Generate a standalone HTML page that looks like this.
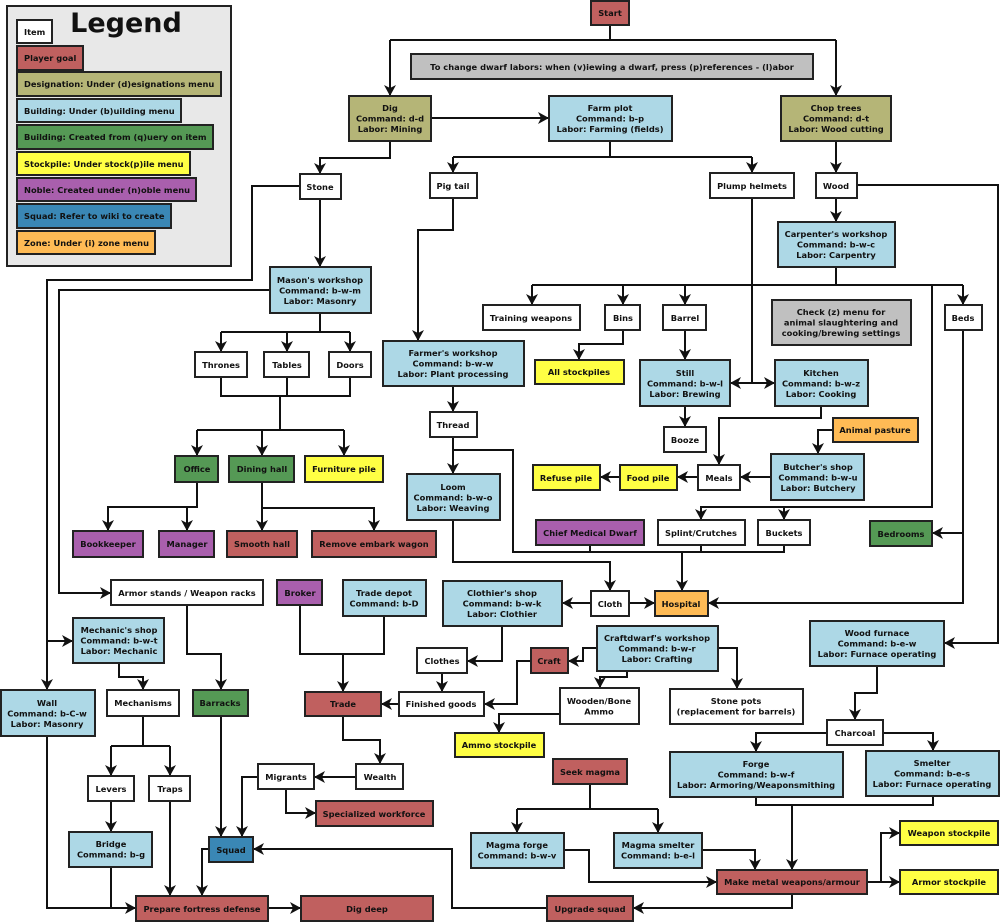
<!DOCTYPE html>
<html><head><meta charset="utf-8"><style>
html,body{margin:0;padding:0;background:#fff;width:1000px;height:922px;overflow:hidden}
svg{display:block}
text{font-family:"DejaVu Sans","Liberation Sans",sans-serif;font-weight:bold;font-size:8.3px;fill:#111;text-anchor:middle}
rect{stroke:#222;stroke-width:2}
path{fill:none;stroke:#111;stroke-width:2}
.w{fill:#fff}.r{fill:#c0605f}.o{fill:#b5b577}.b{fill:#add8e6}.g{fill:#559955}.y{fill:#ffff44}.p{fill:#a95fad}.s{fill:#3a87b5}.z{fill:#ffbb55}.gr{fill:#c0c0c0}
.l{text-anchor:start}
</style></head><body>
<svg width="1000" height="922" viewBox="0 0 1000 922" xmlns="http://www.w3.org/2000/svg">
<defs><marker id="a" markerUnits="userSpaceOnUse" markerWidth="12" markerHeight="12" refX="10" refY="6" orient="auto"><path d="M0,0 L11,6 L0,12 L3,6 Z" style="fill:#111;stroke:none"/></marker></defs>

<!-- Legend -->
<rect x="7" y="6" width="224" height="260" style="fill:#e8e8e8"/>
<text x="126" y="32" style="font-size:27px">Legend</text>
<rect class="w" x="17" y="20" width="35" height="23"/><text class="l" x="24" y="35">Item</text>
<rect class="r" x="17" y="46" width="66" height="24"/><text class="l" x="24" y="61">Player goal</text>
<rect class="o" x="17" y="72" width="204" height="24"/><text class="l" x="24" y="87">Designation: Under (d)esignations menu</text>
<rect class="b" x="17" y="99" width="164" height="23"/><text class="l" x="24" y="114">Building: Under (b)uilding menu</text>
<rect class="g" x="17" y="125" width="196" height="24"/><text class="l" x="24" y="140">Building: Created from (q)uery on item</text>
<rect class="y" x="17" y="152" width="173" height="23"/><text class="l" x="24" y="167">Stockpile: Under stock(p)ile menu</text>
<rect class="p" x="17" y="178" width="179" height="23"/><text class="l" x="24" y="193">Noble: Created under (n)oble menu</text>
<rect class="s" x="17" y="204" width="154" height="24"/><text class="l" x="24" y="219">Squad: Refer to wiki to create</text>
<rect class="z" x="17" y="231" width="138" height="23"/><text class="l" x="24" y="246">Zone: Under (i) zone menu</text>

<!-- Edges -->
<path d="M610,25 V40 M390,40 H836"/>
<path d="M390,40 V95" marker-end="url(#a)"/>
<path d="M836,40 V95" marker-end="url(#a)"/>
<path d="M431,118 H548" marker-end="url(#a)"/>
<path d="M390,141 V158 H320 V173" marker-end="url(#a)"/>
<path d="M610,141 V157 M453,157 H752"/>
<path d="M453,157 V172" marker-end="url(#a)"/>
<path d="M752,157 V172" marker-end="url(#a)"/>
<path d="M836,141 V172" marker-end="url(#a)"/>
<path d="M836,198 V221" marker-end="url(#a)"/>
<path d="M857,185 H998 V643 H945" marker-end="url(#a)"/>
<path d="M320,199 V266" marker-end="url(#a)"/>
<path d="M300,186 H252 V280 H47 V689" marker-end="url(#a)"/>
<path d="M47,641 H72" marker-end="url(#a)"/>
<path d="M270,290 H59 V593 H110" marker-end="url(#a)"/>
<path d="M320,313 V332 M221,332 H350"/>
<path d="M221,332 V351" marker-end="url(#a)"/>
<path d="M287,332 V351" marker-end="url(#a)"/>
<path d="M350,332 V351" marker-end="url(#a)"/>
<path d="M221,377 V396 H350 V377 M287,377 V396 M280,396 V430 M197,430 H344"/>
<path d="M197,430 V455" marker-end="url(#a)"/>
<path d="M262,430 V455" marker-end="url(#a)"/>
<path d="M344,430 V455" marker-end="url(#a)"/>
<path d="M197,482 V507 H108 V530" marker-end="url(#a)"/>
<path d="M187,507 V530" marker-end="url(#a)"/>
<path d="M262,482 V508 H374 V530" marker-end="url(#a)"/>
<path d="M262,508 V530" marker-end="url(#a)"/>
<path d="M453,198 V230 H418 V340" marker-end="url(#a)"/>
<path d="M453,386 V411" marker-end="url(#a)"/>
<path d="M453,437 V473" marker-end="url(#a)"/>
<path d="M453,450 H513 V552 H784 V545 M590,545 V552 M701,545 V552"/>
<path d="M682,552 V590" marker-end="url(#a)"/>
<path d="M453,520 V562 H610 V590" marker-end="url(#a)"/>
<path d="M591,603 H563" marker-end="url(#a)"/>
<path d="M629,603 H654" marker-end="url(#a)"/>
<path d="M963,330 V603 H709" marker-end="url(#a)"/>
<path d="M963,533 H933" marker-end="url(#a)"/>
<path d="M836,267 V285 M532,285 H963"/>
<path d="M532,285 V304" marker-end="url(#a)"/>
<path d="M623,285 V304" marker-end="url(#a)"/>
<path d="M685,285 V304" marker-end="url(#a)"/>
<path d="M963,285 V304" marker-end="url(#a)"/>
<path d="M932,285 V507 H701 V519" marker-end="url(#a)"/>
<path d="M784,507 V519" marker-end="url(#a)"/>
<path d="M752,198 V383 H731" marker-end="url(#a)"/>
<path d="M752,383 H774" marker-end="url(#a)"/>
<path d="M623,330 V344 H579 V359" marker-end="url(#a)"/>
<path d="M685,330 V359" marker-end="url(#a)"/>
<path d="M685,406 V426" marker-end="url(#a)"/>
<path d="M821,406 V418 H719 V464" marker-end="url(#a)"/>
<path d="M833,430 H818 V453" marker-end="url(#a)"/>
<path d="M771,477 H741" marker-end="url(#a)"/>
<path d="M698,477 H678" marker-end="url(#a)"/>
<path d="M620,477 H601" marker-end="url(#a)"/>
<path d="M502,626 V661 H468" marker-end="url(#a)"/>
<path d="M442,673 V691" marker-end="url(#a)"/>
<path d="M399,704 H382" marker-end="url(#a)"/>
<path d="M597,648 H583 V661 H569" marker-end="url(#a)"/>
<path d="M531,661 H517 V704 H485" marker-end="url(#a)"/>
<path d="M627,671 V677 H600 V687" marker-end="url(#a)"/>
<path d="M718,648 H737 V688" marker-end="url(#a)"/>
<path d="M560,714 H499 V732" marker-end="url(#a)"/>
<path d="M384,616 V654 H300 V605 M343,654 V691" marker-end="url(#a)"/>
<path d="M343,716 V740 H380 V763" marker-end="url(#a)"/>
<path d="M356,777 H315" marker-end="url(#a)"/>
<path d="M286,789 V813 H315" marker-end="url(#a)"/>
<path d="M258,777 H242 V836" marker-end="url(#a)"/>
<path d="M187,605 V654 H221 V689" marker-end="url(#a)"/>
<path d="M221,716 V836" marker-end="url(#a)"/>
<path d="M119,663 V677 H143 V689" marker-end="url(#a)"/>
<path d="M143,716 V746 M111,746 H170"/>
<path d="M111,746 V775" marker-end="url(#a)"/>
<path d="M170,746 V775" marker-end="url(#a)"/>
<path d="M111,801 V831" marker-end="url(#a)"/>
<path d="M170,801 V895" marker-end="url(#a)"/>
<path d="M47,736 V908 H135" marker-end="url(#a)"/>
<path d="M111,867 V908"/>
<path d="M209,849 H202 V895" marker-end="url(#a)"/>
<path d="M268,908 H300" marker-end="url(#a)"/>
<path d="M547,908 H452 V849 H254" marker-end="url(#a)"/>
<path d="M792,894 V908 H634" marker-end="url(#a)"/>
<path d="M877,666 V693 H855 V719" marker-end="url(#a)"/>
<path d="M827,733 H756 V751" marker-end="url(#a)"/>
<path d="M883,733 H933 V750" marker-end="url(#a)"/>
<path d="M756,797 V805 H933 V796 M792,805 V869" marker-end="url(#a)"/>
<path d="M590,784 V809 M517,809 H658"/>
<path d="M517,809 V832" marker-end="url(#a)"/>
<path d="M658,809 V832" marker-end="url(#a)"/>
<path d="M564,850 H589 V882 H716" marker-end="url(#a)"/>
<path d="M702,850 H755 V869" marker-end="url(#a)"/>
<path d="M867,882 H881 V833 H899" marker-end="url(#a)"/>
<path d="M881,882 H899" marker-end="url(#a)"/>

<!-- Nodes -->
<rect class="r" x="591" y="1" width="38" height="24"/><text x="610" y="16">Start</text>
<rect class="gr" x="411" y="54" width="402" height="25"/><text x="612" y="70">To change dwarf labors: when (v)iewing a dwarf, press (p)references - (l)abor</text>
<rect class="o" x="349" y="96" width="82" height="45"/><text x="390" y="111">Dig<tspan x="390" dy="10.4">Command: d-d</tspan><tspan x="390" dy="10.4">Labor: Mining</tspan></text>
<rect class="b" x="549" y="96" width="123" height="45"/><text x="610" y="111">Farm plot<tspan x="610" dy="10.4">Command: b-p</tspan><tspan x="610" dy="10.4">Labor: Farming (fields)</tspan></text>
<rect class="o" x="781" y="96" width="110" height="45"/><text x="836" y="111">Chop trees<tspan x="836" dy="10.4">Command: d-t</tspan><tspan x="836" dy="10.4">Labor: Wood cutting</tspan></text>
<rect class="w" x="300" y="174" width="41" height="25"/><text x="320" y="190">Stone</text>
<rect class="w" x="430" y="173" width="47" height="25"/><text x="453" y="189">Pig tail</text>
<rect class="w" x="710" y="173" width="84" height="25"/><text x="752" y="189">Plump helmets</text>
<rect class="w" x="816" y="173" width="41" height="25"/><text x="836" y="189">Wood</text>
<rect class="b" x="778" y="222" width="117" height="45"/><text x="836" y="237">Carpenter's workshop<tspan x="836" dy="10.4">Command: b-w-c</tspan><tspan x="836" dy="10.4">Labor: Carpentry</tspan></text>
<rect class="b" x="270" y="267" width="101" height="46"/><text x="320" y="283">Mason's workshop<tspan x="320" dy="10.4">Command: b-w-m</tspan><tspan x="320" dy="10.4">Labor: Masonry</tspan></text>
<rect class="w" x="483" y="305" width="97" height="25"/><text x="531" y="321">Training weapons</text>
<rect class="w" x="605" y="305" width="35" height="25"/><text x="623" y="321">Bins</text>
<rect class="w" x="663" y="305" width="43" height="25"/><text x="685" y="321">Barrel</text>
<rect class="gr" x="772" y="300" width="139" height="45"/><text x="841" y="315">Check (z) menu for<tspan x="841" dy="10.4">animal slaughtering and</tspan><tspan x="841" dy="10.4">cooking/brewing settings</tspan></text>
<rect class="w" x="945" y="305" width="37" height="25"/><text x="963" y="321">Beds</text>
<rect class="w" x="195" y="352" width="52" height="25"/><text x="221" y="368">Thrones</text>
<rect class="w" x="264" y="352" width="45" height="25"/><text x="287" y="368">Tables</text>
<rect class="w" x="329" y="352" width="42" height="25"/><text x="350" y="368">Doors</text>
<rect class="b" x="383" y="341" width="141" height="45"/><text x="453" y="356">Farmer's workshop<tspan x="453" dy="10.4">Command: b-w-w</tspan><tspan x="453" dy="10.4">Labor: Plant processing</tspan></text>
<rect class="y" x="535" y="360" width="89" height="24"/><text x="579" y="375">All stockpiles</text>
<rect class="b" x="640" y="360" width="90" height="46"/><text x="685" y="376">Still<tspan x="685" dy="10.4">Command: b-w-l</tspan><tspan x="685" dy="10.4">Labor: Brewing</tspan></text>
<rect class="b" x="775" y="360" width="93" height="46"/><text x="821" y="376">Kitchen<tspan x="821" dy="10.4">Command: b-w-z</tspan><tspan x="821" dy="10.4">Labor: Cooking</tspan></text>
<rect class="w" x="430" y="412" width="47" height="25"/><text x="453" y="428">Thread</text>
<rect class="w" x="664" y="427" width="42" height="25"/><text x="685" y="443">Booze</text>
<rect class="z" x="833" y="418" width="85" height="24"/><text x="875" y="433">Animal pasture</text>
<rect class="g" x="175" y="456" width="43" height="26"/><text x="197" y="472">Office</text>
<rect class="g" x="229" y="456" width="65" height="26"/><text x="262" y="472">Dining hall</text>
<rect class="y" x="305" y="456" width="78" height="26"/><text x="344" y="472">Furniture pile</text>
<rect class="b" x="407" y="474" width="93" height="46"/><text x="453" y="490">Loom<tspan x="453" dy="10.4">Command: b-w-o</tspan><tspan x="453" dy="10.4">Labor: Weaving</tspan></text>
<rect class="y" x="533" y="465" width="67" height="25"/><text x="566" y="481">Refuse pile</text>
<rect class="y" x="620" y="465" width="57" height="25"/><text x="648" y="481">Food pile</text>
<rect class="w" x="698" y="465" width="42" height="25"/><text x="719" y="481">Meals</text>
<rect class="b" x="771" y="454" width="93" height="46"/><text x="818" y="470">Butcher's shop<tspan x="818" dy="10.4">Command: b-w-u</tspan><tspan x="818" dy="10.4">Labor: Butchery</tspan></text>
<rect class="p" x="536" y="520" width="108" height="25"/><text x="590" y="536">Chief Medical Dwarf</text>
<rect class="w" x="658" y="520" width="87" height="25"/><text x="701" y="536">Splint/Crutches</text>
<rect class="w" x="758" y="520" width="52" height="25"/><text x="784" y="536">Buckets</text>
<rect class="g" x="870" y="521" width="62" height="25"/><text x="901" y="537">Bedrooms</text>
<rect class="p" x="73" y="531" width="70" height="26"/><text x="108" y="547">Bookkeeper</text>
<rect class="p" x="159" y="531" width="55" height="26"/><text x="187" y="547">Manager</text>
<rect class="r" x="227" y="531" width="70" height="26"/><text x="262" y="547">Smooth hall</text>
<rect class="r" x="312" y="531" width="124" height="26"/><text x="374" y="547">Remove embark wagon</text>
<rect class="w" x="111" y="580" width="152" height="25"/><text x="187" y="596">Armor stands / Weapon racks</text>
<rect class="p" x="277" y="580" width="45" height="25"/><text x="300" y="596">Broker</text>
<rect class="b" x="343" y="580" width="83" height="36"/><text x="384" y="596">Trade depot<tspan x="384" dy="10.4">Command: b-D</tspan></text>
<rect class="b" x="443" y="581" width="119" height="45"/><text x="502" y="596">Clothier's shop<tspan x="502" dy="10.4">Command: b-w-k</tspan><tspan x="502" dy="10.4">Labor: Clothier</tspan></text>
<rect class="w" x="591" y="591" width="38" height="25"/><text x="610" y="607">Cloth</text>
<rect class="z" x="655" y="591" width="53" height="25"/><text x="681" y="607">Hospital</text>
<rect class="b" x="73" y="618" width="91" height="45"/><text x="119" y="633">Mechanic's shop<tspan x="119" dy="10.4">Command: b-w-t</tspan><tspan x="119" dy="10.4">Labor: Mechanic</tspan></text>
<rect class="b" x="810" y="621" width="134" height="45"/><text x="877" y="636">Wood furnace<tspan x="877" dy="10.4">Command: b-e-w</tspan><tspan x="877" dy="10.4">Labor: Furnace operating</tspan></text>
<rect class="b" x="597" y="626" width="121" height="45"/><text x="657" y="641">Craftdwarf's workshop<tspan x="657" dy="10.4">Command: b-w-r</tspan><tspan x="657" dy="10.4">Labor: Crafting</tspan></text>
<rect class="w" x="417" y="648" width="50" height="25"/><text x="442" y="664">Clothes</text>
<rect class="r" x="531" y="648" width="37" height="25"/><text x="549" y="664">Craft</text>
<rect class="b" x="1" y="690" width="94" height="46"/><text x="47" y="706">Wall<tspan x="47" dy="10.4">Command: b-C-w</tspan><tspan x="47" dy="10.4">Labor: Masonry</tspan></text>
<rect class="w" x="107" y="690" width="72" height="26"/><text x="143" y="706">Mechanisms</text>
<rect class="g" x="193" y="690" width="55" height="26"/><text x="220" y="706">Barracks</text>
<rect class="r" x="305" y="692" width="76" height="24"/><text x="343" y="707">Trade</text>
<rect class="w" x="399" y="692" width="85" height="24"/><text x="441" y="707">Finished goods</text>
<rect class="w" x="560" y="688" width="79" height="36"/><text x="599" y="704">Wooden/Bone<tspan x="599" dy="10.4">Ammo</tspan></text>
<rect class="w" x="670" y="689" width="133" height="35"/><text x="736" y="704">Stone pots<tspan x="736" dy="10.4">(replacement for barrels)</tspan></text>
<rect class="w" x="827" y="720" width="56" height="25"/><text x="855" y="736">Charcoal</text>
<rect class="y" x="455" y="733" width="89" height="24"/><text x="499" y="748">Ammo stockpile</text>
<rect class="b" x="670" y="752" width="173" height="45"/><text x="756" y="767">Forge<tspan x="756" dy="10.4">Command: b-w-f</tspan><tspan x="756" dy="10.4">Labor: Armoring/Weaponsmithing</tspan></text>
<rect class="b" x="866" y="751" width="133" height="45"/><text x="932" y="766">Smelter<tspan x="932" dy="10.4">Command: b-e-s</tspan><tspan x="932" dy="10.4">Labor: Furnace operating</tspan></text>
<rect class="r" x="553" y="759" width="74" height="25"/><text x="590" y="775">Seek magma</text>
<rect class="w" x="88" y="776" width="46" height="25"/><text x="111" y="792">Levers</text>
<rect class="w" x="149" y="776" width="41" height="25"/><text x="170" y="792">Traps</text>
<rect class="w" x="258" y="764" width="56" height="25"/><text x="286" y="780">Migrants</text>
<rect class="w" x="356" y="764" width="47" height="25"/><text x="380" y="780">Wealth</text>
<rect class="r" x="316" y="801" width="117" height="25"/><text x="374" y="817">Specialized workforce</text>
<rect class="b" x="69" y="832" width="83" height="35"/><text x="111" y="847">Bridge<tspan x="111" dy="10.4">Command: b-g</tspan></text>
<rect class="s" x="209" y="837" width="44" height="25"/><text x="231" y="853">Squad</text>
<rect class="b" x="471" y="833" width="93" height="35"/><text x="517" y="848">Magma forge<tspan x="517" dy="10.4">Command: b-w-v</tspan></text>
<rect class="b" x="614" y="833" width="88" height="35"/><text x="658" y="848">Magma smelter<tspan x="658" dy="10.4">Command: b-e-l</tspan></text>
<rect class="y" x="900" y="821" width="98" height="24"/><text x="949" y="836">Weapon stockpile</text>
<rect class="r" x="717" y="870" width="150" height="24"/><text x="792" y="885">Make metal weapons/armour</text>
<rect class="y" x="900" y="870" width="98" height="24"/><text x="949" y="885">Armor stockpile</text>
<rect class="r" x="136" y="896" width="132" height="25"/><text x="202" y="912">Prepare fortress defense</text>
<rect class="r" x="301" y="896" width="132" height="25"/><text x="367" y="912">Dig deep</text>
<rect class="r" x="547" y="896" width="86" height="25"/><text x="590" y="912">Upgrade squad</text>
</svg>
</body></html>
